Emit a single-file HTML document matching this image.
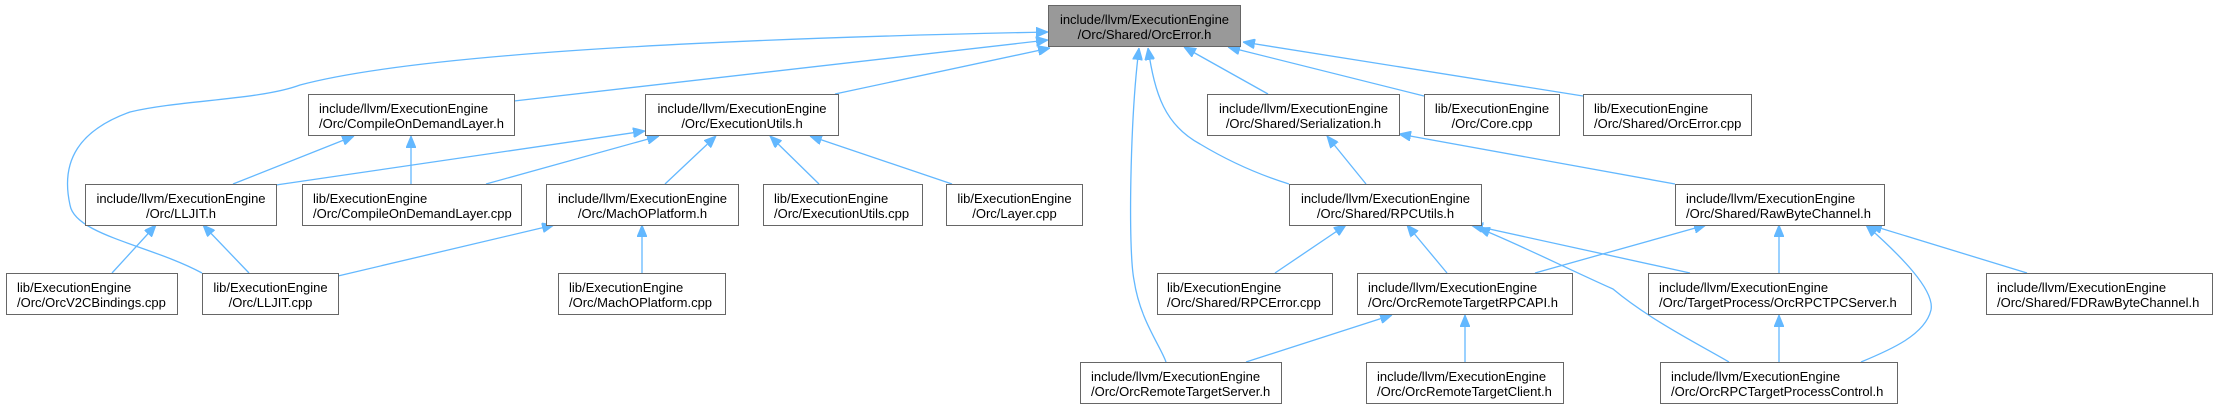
<!DOCTYPE html>
<html><head><meta charset="utf-8"><style>
html,body{margin:0;padding:0;background:#fff;}
svg{display:block;}
text{font-family:"Liberation Sans",Arial,sans-serif;font-size:13px;fill:#000;}
.e{fill:none;stroke:#63b8ff;stroke-width:1.3;marker-start:url(#ah);}
.b{fill:#fff;stroke:#666;stroke-width:1;}
</style></head><body>
<svg width="2218" height="406" viewBox="0 0 2218 406" xmlns="http://www.w3.org/2000/svg">
<defs>
<marker id="ah" markerWidth="12" markerHeight="10" refX="0" refY="5" orient="auto" markerUnits="userSpaceOnUse">
<path d="M0,5 L12,0 L12,10 Z" fill="#63b8ff" stroke="#63b8ff"/>
</marker>
</defs>
<path class="e" d="M1048,32 C900,35 450,45 300,85 C260,100 180,100 130,112 C80,130 60,160 70,205 C75,235 150,245 202,273"/>
<path class="e" d="M1048,40 L514,101"/>
<path class="e" d="M1050,48 L835,94"/>
<path class="e" d="M1184,47 L1268,94"/>
<path class="e" d="M1228,47 L1424,96"/>
<path class="e" d="M1243,42 L1583,96"/>
<path class="e" d="M1148,48 C1155,95 1165,125 1200,144 C1230,162 1260,175 1289,184"/>
<path class="e" d="M1139,48 C1130,120 1128,250 1134,280 C1140,320 1160,345 1166,362"/>
<path class="e" d="M354,136 L233,184"/>
<path class="e" d="M411,136 L411,184"/>
<path class="e" d="M645,131 L276,185"/>
<path class="e" d="M659,136 L486,184"/>
<path class="e" d="M716,136 L665,184"/>
<path class="e" d="M770,136 L819,184"/>
<path class="e" d="M810,136 L952,184"/>
<path class="e" d="M156,225 L112,273"/>
<path class="e" d="M203,225 L249,273"/>
<path class="e" d="M554,225 L338,276"/>
<path class="e" d="M642,225 L642,273"/>
<path class="e" d="M1327,136 L1366,184"/>
<path class="e" d="M1399,134 L1675,184"/>
<path class="e" d="M1346,225 L1275,273"/>
<path class="e" d="M1407,225 L1447,273"/>
<path class="e" d="M1471,225 L1690,273"/>
<path class="e" d="M1478,228 C1510,240 1570,270 1613,289 C1650,320 1700,345 1729,362"/>
<path class="e" d="M1706,225 L1535,273"/>
<path class="e" d="M1779,225 L1779,273"/>
<path class="e" d="M1866,225 C1900,255 1935,290 1931,310 C1925,335 1890,350 1861,362"/>
<path class="e" d="M1870,225 L2027,273"/>
<path class="e" d="M1392,315 L1246,362"/>
<path class="e" d="M1465,315 L1465,362"/>
<path class="e" d="M1779,315 L1779,362"/>

<rect x="1048.5" y="5.5" width="192" height="41" fill="#999" stroke="#666"/>
<text x="1144.5" y="24" text-anchor="middle">include/llvm/ExecutionEngine</text>
<text x="1144.5" y="39" text-anchor="middle">/Orc/Shared/OrcError.h</text>

<rect class="b" x="308.5" y="94.5" width="206" height="41"/>
<text x="319" y="113">include/llvm/ExecutionEngine</text><text x="319" y="128">/Orc/CompileOnDemandLayer.h</text>

<rect class="b" x="645.5" y="94.5" width="193" height="41"/>
<text x="742" y="113" text-anchor="middle">include/llvm/ExecutionEngine</text><text x="742" y="128" text-anchor="middle">/Orc/ExecutionUtils.h</text>

<rect class="b" x="1207.5" y="94.5" width="192" height="41"/>
<text x="1303.5" y="113" text-anchor="middle">include/llvm/ExecutionEngine</text><text x="1303.5" y="128" text-anchor="middle">/Orc/Shared/Serialization.h</text>

<rect class="b" x="1424.5" y="94.5" width="135" height="41"/>
<text x="1492" y="113" text-anchor="middle">lib/ExecutionEngine</text><text x="1492" y="128" text-anchor="middle">/Orc/Core.cpp</text>

<rect class="b" x="1583.5" y="94.5" width="168" height="41"/>
<text x="1594" y="113">lib/ExecutionEngine</text><text x="1594" y="128">/Orc/Shared/OrcError.cpp</text>

<rect class="b" x="85.5" y="184.5" width="191" height="41"/>
<text x="181" y="203" text-anchor="middle">include/llvm/ExecutionEngine</text><text x="181" y="218" text-anchor="middle">/Orc/LLJIT.h</text>

<rect class="b" x="302.5" y="184.5" width="219" height="41"/>
<text x="313" y="203">lib/ExecutionEngine</text><text x="313" y="218">/Orc/CompileOnDemandLayer.cpp</text>

<rect class="b" x="546.5" y="184.5" width="192" height="41"/>
<text x="642.5" y="203" text-anchor="middle">include/llvm/ExecutionEngine</text><text x="642.5" y="218" text-anchor="middle">/Orc/MachOPlatform.h</text>

<rect class="b" x="763.5" y="184.5" width="159" height="41"/>
<text x="774" y="203">lib/ExecutionEngine</text><text x="774" y="218">/Orc/ExecutionUtils.cpp</text>

<rect class="b" x="946.5" y="184.5" width="136" height="41"/>
<text x="1014.5" y="203" text-anchor="middle">lib/ExecutionEngine</text><text x="1014.5" y="218" text-anchor="middle">/Orc/Layer.cpp</text>

<rect class="b" x="1289.5" y="184.5" width="192" height="41"/>
<text x="1385.5" y="203" text-anchor="middle">include/llvm/ExecutionEngine</text><text x="1385.5" y="218" text-anchor="middle">/Orc/Shared/RPCUtils.h</text>

<rect class="b" x="1675.5" y="184.5" width="209" height="41"/>
<text x="1686" y="203">include/llvm/ExecutionEngine</text><text x="1686" y="218">/Orc/Shared/RawByteChannel.h</text>

<rect class="b" x="6.5" y="273.5" width="171" height="41"/>
<text x="17" y="292">lib/ExecutionEngine</text><text x="17" y="307">/Orc/OrcV2CBindings.cpp</text>

<rect class="b" x="202.5" y="273.5" width="136" height="41"/>
<text x="270.5" y="292" text-anchor="middle">lib/ExecutionEngine</text><text x="270.5" y="307" text-anchor="middle">/Orc/LLJIT.cpp</text>

<rect class="b" x="558.5" y="273.5" width="167" height="41"/>
<text x="569" y="292">lib/ExecutionEngine</text><text x="569" y="307">/Orc/MachOPlatform.cpp</text>

<rect class="b" x="1157.5" y="273.5" width="175" height="41"/>
<text x="1167" y="292">lib/ExecutionEngine</text><text x="1167" y="307">/Orc/Shared/RPCError.cpp</text>

<rect class="b" x="1357.5" y="273.5" width="215" height="41"/>
<text x="1368" y="292">include/llvm/ExecutionEngine</text><text x="1368" y="307">/Orc/OrcRemoteTargetRPCAPI.h</text>

<rect class="b" x="1648.5" y="273.5" width="263" height="41"/>
<text x="1659" y="292">include/llvm/ExecutionEngine</text><text x="1659" y="307">/Orc/TargetProcess/OrcRPCTPCServer.h</text>

<rect class="b" x="1986.5" y="273.5" width="226" height="41"/>
<text x="1997" y="292">include/llvm/ExecutionEngine</text><text x="1997" y="307">/Orc/Shared/FDRawByteChannel.h</text>

<rect class="b" x="1080.5" y="362.5" width="201" height="41"/>
<text x="1091" y="381">include/llvm/ExecutionEngine</text><text x="1091" y="396">/Orc/OrcRemoteTargetServer.h</text>

<rect class="b" x="1366.5" y="362.5" width="197" height="41"/>
<text x="1377" y="381">include/llvm/ExecutionEngine</text><text x="1377" y="396">/Orc/OrcRemoteTargetClient.h</text>

<rect class="b" x="1660.5" y="362.5" width="237" height="41"/>
<text x="1671" y="381">include/llvm/ExecutionEngine</text><text x="1671" y="396">/Orc/OrcRPCTargetProcessControl.h</text>
</svg>
</body></html>
